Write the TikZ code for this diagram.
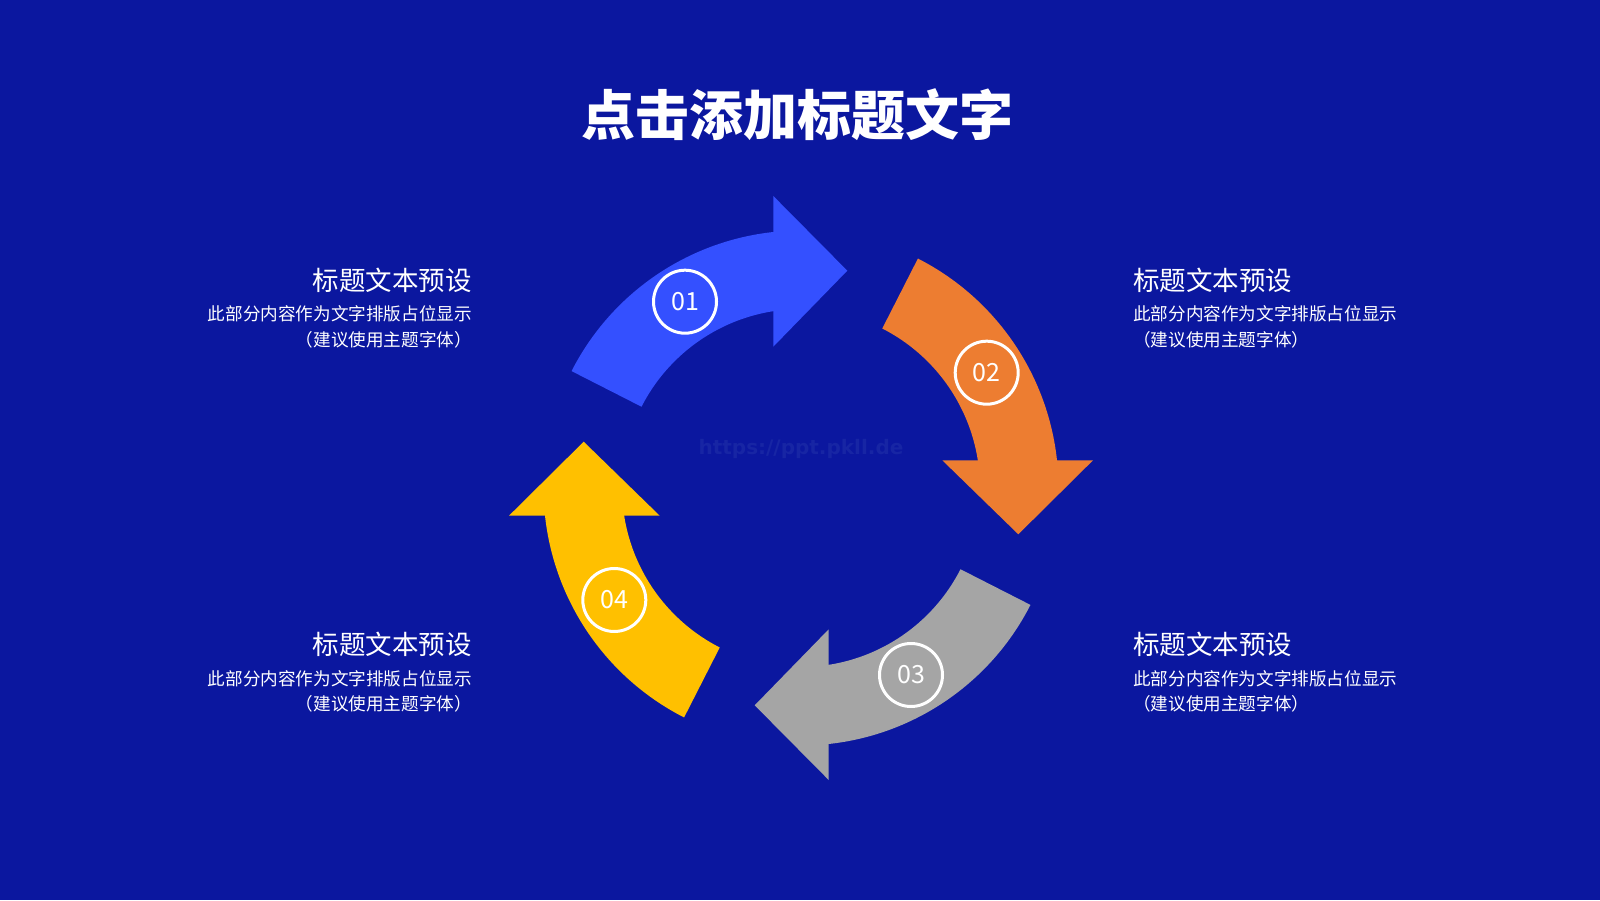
\documentclass[tikz,border=0pt]{standalone}
\usepackage{fontspec}
\newfontfamily\cjk{Noto Sans CJK SC}
\newfontfamily\wmfont{DejaVu Sans}
\definecolor{bg}{HTML}{0B179F}
\definecolor{ablue}{HTML}{3450FF}
\definecolor{aorange}{HTML}{ED7D31}
\definecolor{agray}{HTML}{A5A5A5}
\definecolor{agold}{HTML}{FFC000}
\definecolor{wm}{HTML}{1725A4}
\newcommand\cyclearrow[2]{%
\begin{scope}[shift={(801,412)}, rotate=#1]
\fill[#2] (153:257.5) arc[start angle=153, end angle=96.18, radius=257.5]
  -- (-27.7,292) -- (46.3,217.3) -- (-27.7,141.3)
  -- (98.9:179) arc[start angle=98.9, end angle=153, radius=179] -- cycle;
\end{scope}}
\begin{document}
\begin{tikzpicture}[x=1pt,y=1pt,
  numcircle/.style={circle, draw=white, line width=3pt, minimum size=63pt, inner sep=0pt, text=white, font=\cjk\fontsize{25}{25}\selectfont},
  headtxt/.style={text=white, inner sep=0pt, font=\cjk\fontsize{26.5}{30}\selectfont},
  bodytxt/.style={text=white, inner sep=0pt, font=\cjk\fontsize{17.6}{20}\selectfont},
]
\useasboundingbox (0,0) rectangle (1600,900);
\fill[bg] (0,0) rectangle (1600,900);

\node[text=wm, font=\wmfont\bfseries\fontsize{20}{20}\selectfont] (wmark) at (801,451) {https://ppt.pkll.de};

\cyclearrow{0}{ablue}
\cyclearrow{-90}{aorange}
\cyclearrow{-180}{agray}
\cyclearrow{-270}{agold}

\node[numcircle] (n1) at (685,598.3) {01};
\node[numcircle] (n2) at (986.7,527.3) {02};
\node[numcircle] (n3) at (911,225) {03};
\node[numcircle] (n4) at (614.3,300) {04};

\node[text=white, inner sep=0pt, font=\cjk\bfseries\fontsize{54}{54}\selectfont] (title) at (797,785) {点击添加标题文字};

% left top
\node[headtxt, anchor=east] (lt1) at (472,620) {标题文本预设};
\node[bodytxt, anchor=east] (lt2) at (472,586) {此部分内容作为文字排版占位显示};
\node[bodytxt, anchor=east] (lt3) at (472,560.5) {（建议使用主题字体）};
% right top
\node[headtxt, anchor=west] (rt1) at (1133,620) {标题文本预设};
\node[bodytxt, anchor=west] (rt2) at (1133,586) {此部分内容作为文字排版占位显示};
\node[bodytxt, anchor=west] (rt3) at (1133,560.5) {（建议使用主题字体）};
% left bottom
\node[headtxt, anchor=east] (lb1) at (472,255.5) {标题文本预设};
\node[bodytxt, anchor=east] (lb2) at (472,221.5) {此部分内容作为文字排版占位显示};
\node[bodytxt, anchor=east] (lb3) at (472,196) {（建议使用主题字体）};
% right bottom
\node[headtxt, anchor=west] (rb1) at (1133,255.5) {标题文本预设};
\node[bodytxt, anchor=west] (rb2) at (1133,221.5) {此部分内容作为文字排版占位显示};
\node[bodytxt, anchor=west] (rb3) at (1133,196) {（建议使用主题字体）};
\end{tikzpicture}
\end{document}
